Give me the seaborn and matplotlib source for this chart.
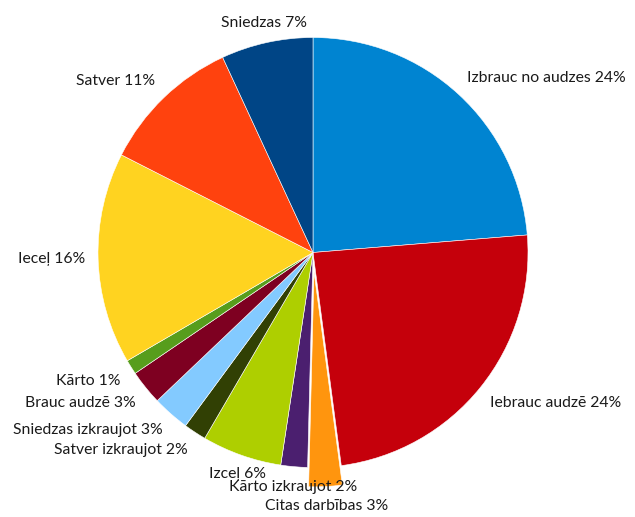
import numpy as np
import matplotlib
matplotlib.use("Agg")
import matplotlib.pyplot as plt
import seaborn as sns

sns.set_theme(style="white")
plt.rcParams['font.family'] = ['Lato', 'DejaVu Sans']

categories = ["Izbrauc no audzes", "Iebrauc audzē", "Citas darbības", "Kārto izkraujot",
              "Izceļ", "Satver izkraujot", "Sniedzas izkraujot", "Brauc audzē",
              "Kārto", "Ieceļ", "Satver", "Sniedzas"]
values = [23.7, 24.2, 2.5, 2.0, 6.0, 1.7, 2.8, 2.6, 1.1, 15.9, 10.6, 6.9]
pct_labels = ["24%", "24%", "3%", "2%", "6%", "2%", "3%", "3%", "1%", "16%", "11%", "7%"]
colors = ["#0084d1", "#c5000b", "#ff950e", "#4b1f6f", "#aecf00", "#314004",
          "#83caff", "#7e0021", "#579d1c", "#ffd320", "#ff420e", "#004586"]
explode = [0, 0, 0.09, 0, 0, 0, 0, 0, 0, 0, 0, 0]

W, H = 635, 517
fig = plt.figure(figsize=(W / 100, H / 100), dpi=100)
cx, cy, R = 313, 252.5, 215
ax = fig.add_axes([(cx - R) / W, (H - cy - R) / H, 2 * R / W, 2 * R / H])

wedges, _ = ax.pie(values, colors=colors, startangle=90, counterclock=False,
                   explode=explode, radius=1.0,
                   wedgeprops=dict(linewidth=0.4, edgecolor="white"))
ax.set_xlim(-1, 1)
ax.set_ylim(-1, 1)
ax.set_aspect("equal")
ax.axis("off")

for w, name, pct, ex in zip(wedges, categories, pct_labels, explode):
    mid = np.deg2rad((w.theta1 + w.theta2) / 2)
    r = 1.06 + ex
    x, y = r * np.cos(mid), r * np.sin(mid)
    c, s = np.cos(mid), np.sin(mid)
    if abs(c) < 0.4:
        ha = "center"
    elif c > 0:
        ha = "left"
    else:
        ha = "right"
    if abs(s) < 0.3:
        va = "center"
    elif s > 0:
        va = "bottom"
    else:
        va = "top"
    ax.text(x, y, f"{name} {pct}", ha=ha, va=va, fontsize=11.3,
            color="#1a1a1a", clip_on=False)

fig.savefig("out.png", dpi=100)
